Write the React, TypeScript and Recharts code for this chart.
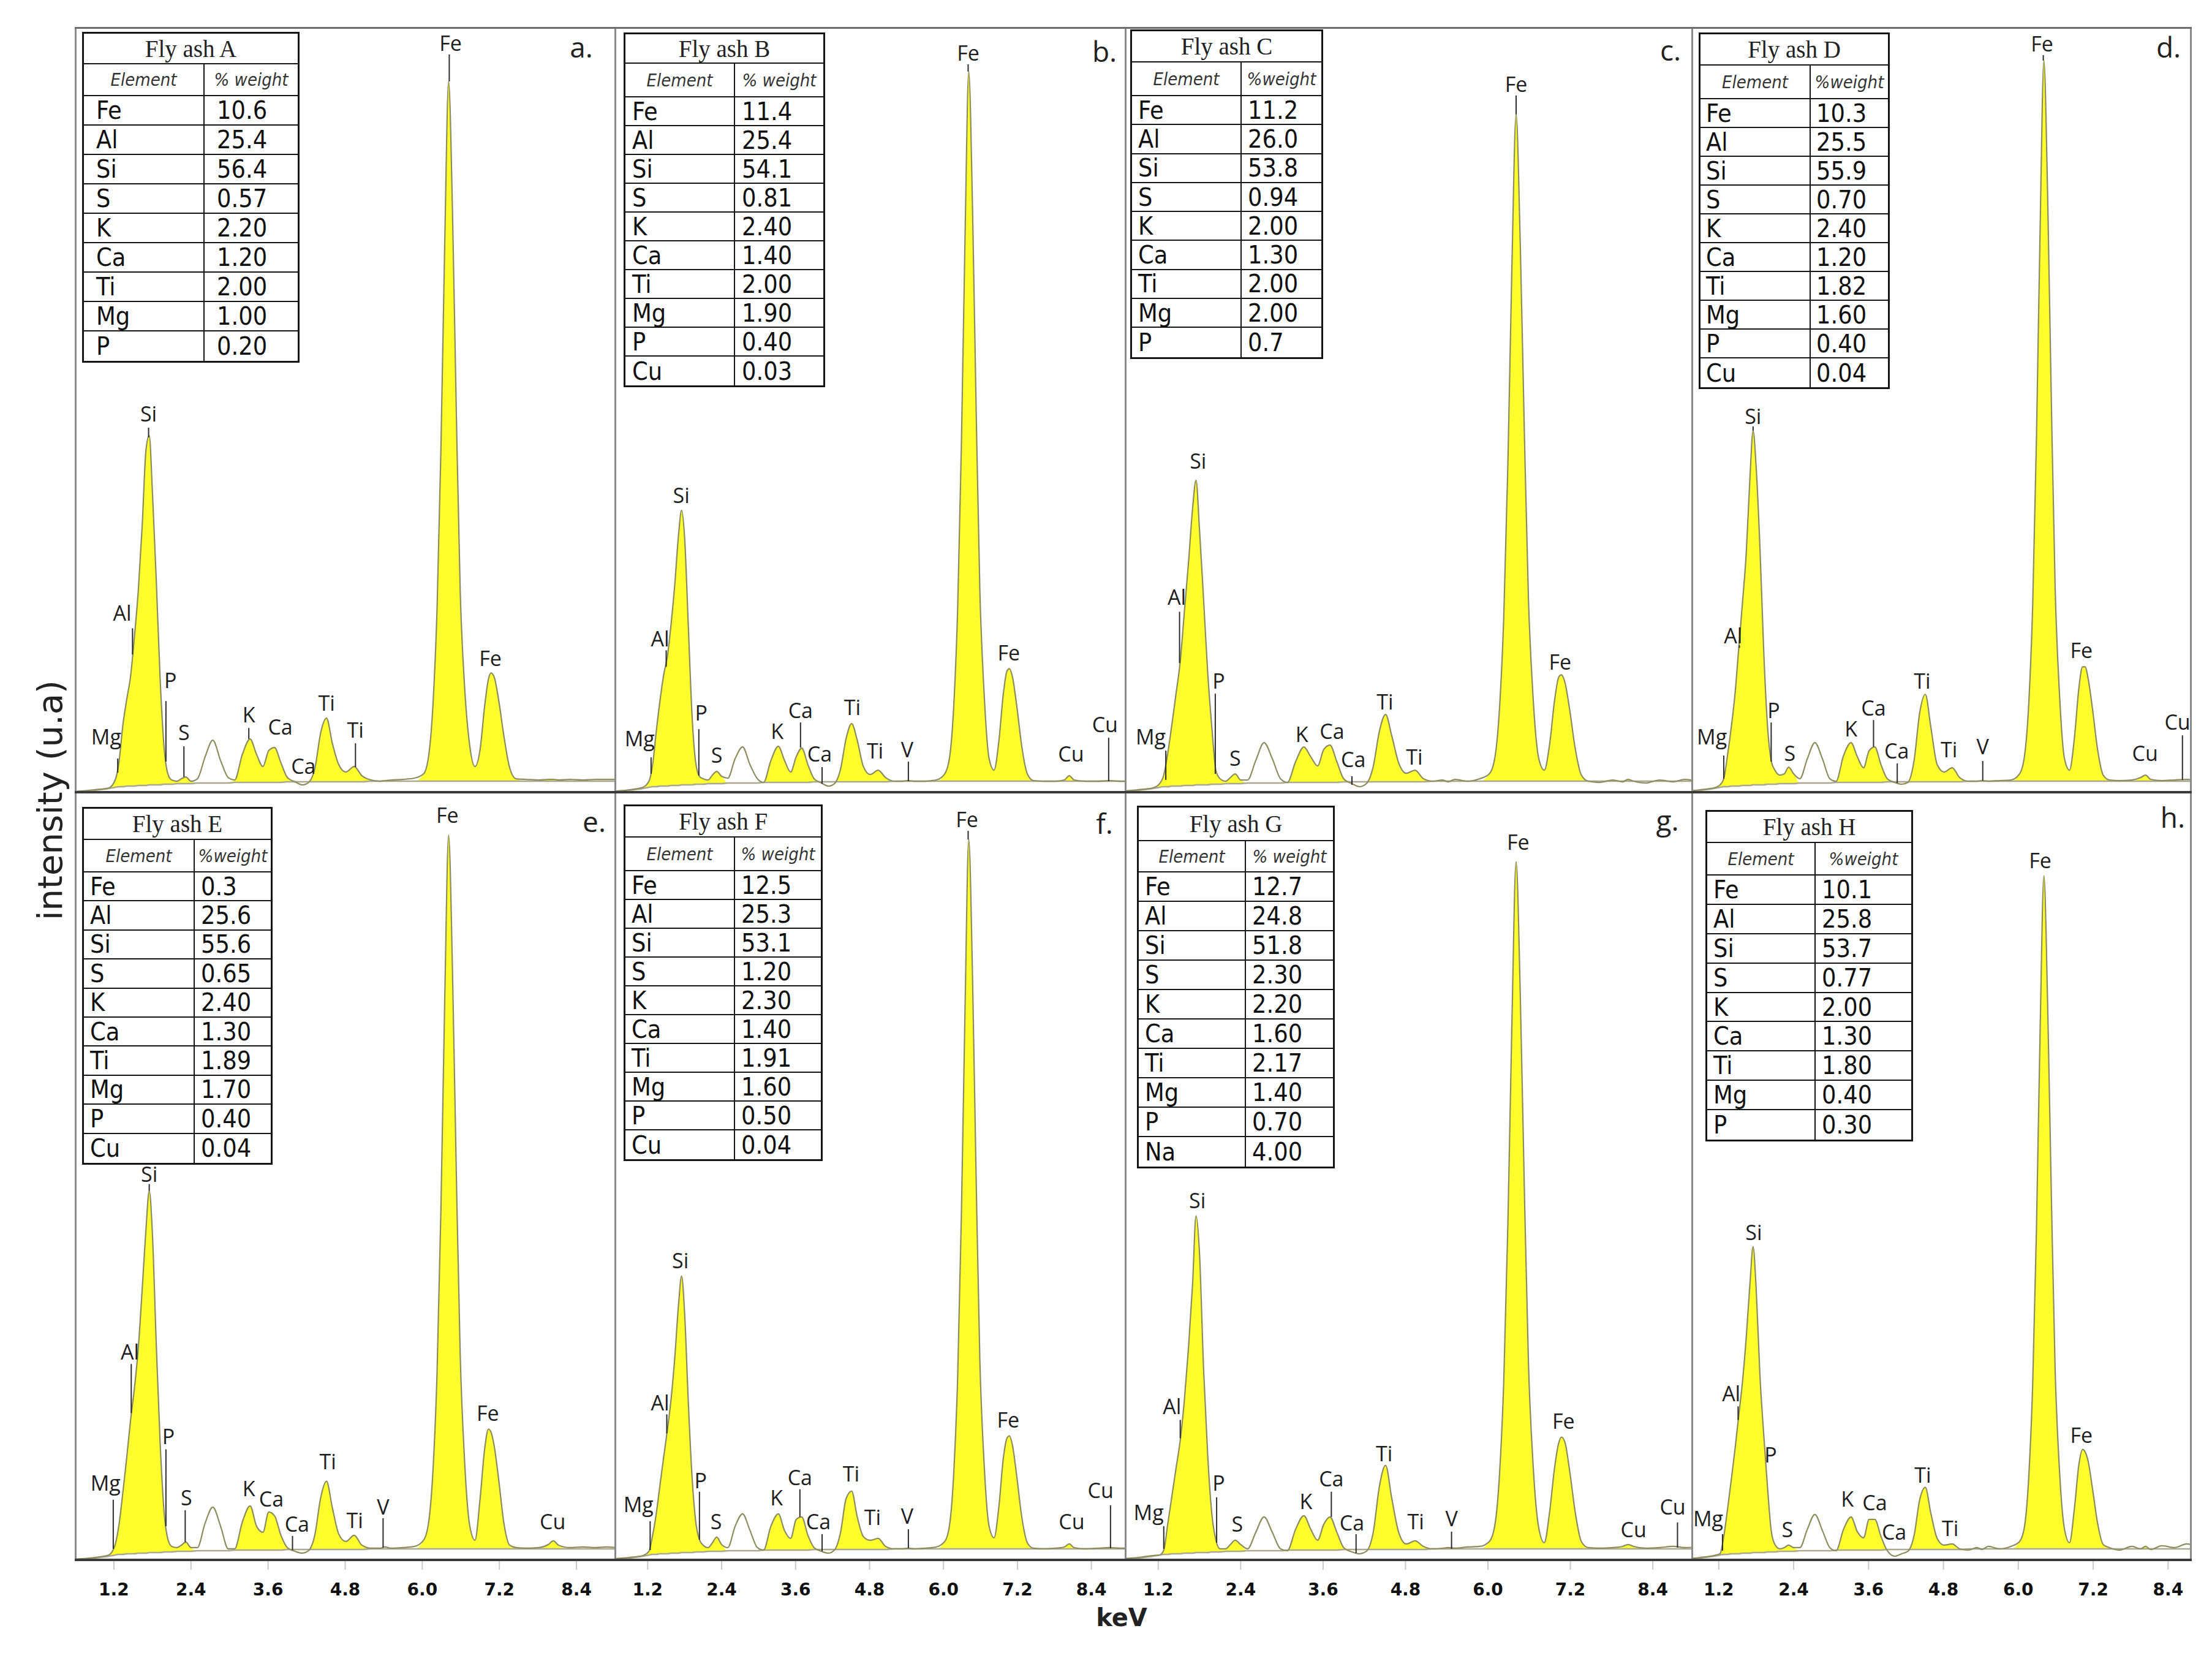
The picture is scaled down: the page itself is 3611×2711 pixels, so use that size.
import React from 'react';
import { ComposedChart, Area, Line, XAxis, YAxis, ReferenceLine, ReferenceDot } from 'recharts';

// ---------- data ----------
const KEV = [
  0.55, 0.90, 1.12,
  1.22, 1.28, 1.34, 1.40, 1.46, 1.52, 1.58, 1.64, 1.70, 1.75, 1.80, 1.86, 1.92, 1.98, 2.04, 2.10,
  2.18, 2.25, 2.32, 2.40,
  2.50, 2.62, 2.74, 2.86, 2.98,
  3.08, 3.20, 3.32, 3.42, 3.52, 3.61, 3.70, 3.80, 3.90, 4.02, 4.13,
  4.23, 4.33, 4.42, 4.51, 4.60, 4.70, 4.81, 4.94, 5.06, 5.20,
  5.34, 5.42, 5.52, 5.70, 5.88,
  6.02, 6.10, 6.17, 6.23, 6.29, 6.35, 6.41, 6.47, 6.53, 6.59, 6.66, 6.74, 6.82,
  6.90, 6.97, 7.03, 7.07, 7.12, 7.19, 7.27, 7.36,
  7.46, 7.62, 7.82, 7.96, 8.04, 8.12, 8.30, 8.50, 8.70, 8.86, 9.05,
];

const BASELINE = [
  0, 3, 6,
  8, 9, 9, 10, 10, 10, 11, 11, 11, 12, 12, 12, 12, 13, 13, 13,
  14, 14, 14, 14,
  15, 15, 15, 15, 15,
  16, 16, 16, 16, 16, 16, 16, 16, 17, 17, 17,
  17, 17, 17, 17, 17, 17, 17, 17, 17, 18,
  18, 18, 18, 18, 18,
  18, 18, 18, 18, 18, 18, 18, 18, 18, 18, 18, 18, 18,
  18, 18, 18, 18, 18, 18, 18, 18,
  18, 18, 18, 18, 18, 18, 18, 18, 18, 18, 18,
];

const SPEC_A = [
  1, 4, 7,
  20, 50, 110, 152, 190, 255, 330, 435, 560, 583, 490, 345, 185, 75, 30, 20,
  18, 22, 25, 18,
  22, 58, 85, 52, 24,
  20, 62, 87, 62, 42, 68, 73, 48, 24, 17, 12,
  16, 40, 98, 121, 80, 45, 33, 42, 27, 20,
  18, 19, 20, 21, 23,
  30, 60, 150, 300, 560, 900, 1162, 950, 620, 330, 170, 75, 42,
  70, 140, 185, 195, 188, 150, 92, 40,
  22, 21, 20, 21, 21, 20, 21, 20, 21, 21, 21,
];

const SPEC_B = [
  1, 4, 8,
  18, 45, 100, 150, 192, 222, 275, 340, 420, 461, 415, 270, 125, 48, 26, 22,
  20, 28, 34, 26,
  23, 55, 74, 45, 22,
  16, 52, 75, 52, 33, 58, 72, 45, 22, 15, 10,
  14, 38, 88, 112, 85, 42, 29, 36, 24, 18,
  18, 19, 18, 18, 20,
  30, 58, 148, 300, 565, 910, 1178, 960, 625, 330, 160, 55, 36,
  85, 160, 198, 202, 188, 140, 75, 30,
  19, 18, 18, 20, 27, 20, 18, 18, 19, 18, 18,
];

const SPEC_C = [
  1, 4, 7,
  14, 28, 65, 112, 162, 214, 295, 375, 464, 510, 430, 315, 195, 106, 35, 22,
  18, 24, 30, 20,
  20, 52, 81, 55, 22,
  16, 50, 74, 58, 43, 70, 77, 50, 22, 14, 9,
  14, 42, 100, 127, 92, 48, 31, 36, 22, 18,
  20, 17, 21, 18, 22,
  30, 56, 140, 285, 535, 865, 1108, 900, 590, 315, 150, 55, 36,
  80, 150, 188, 192, 180, 135, 72, 28,
  18, 16, 20, 17, 21, 18, 15, 20, 17, 21, 18,
];

const SPEC_D = [
  1, 4, 7,
  12, 22, 60, 106, 160, 235, 310, 390, 515, 591, 530, 400, 232, 110, 52, 36,
  28, 30, 41, 30,
  22, 55, 81, 55, 22,
  18, 60, 81, 58, 40, 68, 74, 45, 22, 16, 13,
  16, 52, 130, 160, 105, 45, 33, 40, 24, 18,
  18, 19, 18, 19, 20,
  30, 60, 150, 305, 575, 925, 1196, 975, 635, 335, 160, 55, 36,
  90, 170, 205, 205, 185, 135, 70, 28,
  20, 19, 20, 24, 28, 21, 19, 20, 21, 20, 20,
];

const SPEC_E = [
  1, 4, 8,
  25, 58, 110, 167, 228, 280, 345, 440, 540, 601, 530, 350, 190, 80, 34, 22,
  20, 24, 29, 20,
  20, 60, 86, 55, 18,
  18, 62, 88, 55, 45, 78, 72, 40, 20, 14, 11,
  15, 42, 102, 128, 85, 42, 30, 40, 24, 19,
  19, 21, 19, 20, 22,
  32, 62, 152, 305, 570, 915, 1180, 960, 628, 335, 158, 55, 32,
  100, 180, 213, 208, 185, 130, 60, 24,
  20, 19, 20, 25, 31, 24, 20, 21, 20, 21, 20,
];

const SPEC_F = [
  1, 4, 7,
  14, 40, 76, 122, 168, 212, 262, 330, 415, 462, 400, 255, 135, 62, 33, 24,
  20, 28, 37, 25,
  20, 55, 75, 48, 20,
  16, 55, 75, 48, 35, 66, 70, 40, 20, 14, 11,
  16, 45, 100, 112, 70, 38, 32, 35, 22, 18,
  18, 19, 18, 19, 21,
  30, 58, 148, 298, 560, 900, 1173, 955, 620, 325, 155, 55, 36,
  88, 165, 198, 202, 186, 135, 70, 28,
  19, 18, 19, 21, 26, 20, 18, 19, 20, 19, 19,
];

const SPEC_G = [
  1, 4, 7,
  8, 16, 60, 105, 150, 195, 260, 345, 450, 560, 500, 310, 170, 75, 32, 18,
  18, 25, 32, 25,
  18, 45, 70, 45, 18,
  15, 50, 72, 50, 32, 58, 70, 45, 20, 13, 10,
  14, 45, 120, 154, 100, 45, 26, 31, 22, 18,
  19, 20, 19, 21, 22,
  30, 56, 142, 290, 545, 880, 1137, 925, 605, 320, 150, 52, 28,
  80, 150, 190, 200, 192, 145, 78, 30,
  20, 19, 20, 22, 25, 22, 19, 20, 22, 20, 21,
];

const SPEC_H = [
  1, 4, 7,
  10, 38, 82, 130, 180, 235, 290, 362, 450, 510, 440, 300, 205, 120, 48, 25,
  18, 20, 24, 20,
  20, 50, 74, 48, 20,
  15, 50, 70, 46, 36, 66, 66, 38, 15, 6, 10,
  14, 40, 98, 118, 75, 35, 24, 26, 18, 16,
  20, 17, 22, 18, 22,
  30, 55, 140, 285, 535, 865, 1114, 905, 590, 310, 145, 50, 28,
  85, 155, 180, 176, 160, 115, 60, 25,
  20, 16, 22, 18, 22, 17, 23, 20, 26, 24, 30,
];

// energy bands where the area under a peak is shaded yellow
const FILL_BANDS = [[0.5, 2.45], [3.03, 5.25], [5.96, 7.5], [7.9, 8.2]];

const TICKS = [1.2, 2.4, 3.6, 4.8, 6.0, 7.2, 8.4];

const TABLE_A = [['Fe', '10.6'], ['Al', '25.4'], ['Si', '56.4'], ['S', '0.57'], ['K', '2.20'], ['Ca', '1.20'], ['Ti', '2.00'], ['Mg', '1.00'], ['P', '0.20']];
const TABLE_B = [['Fe', '11.4'], ['Al', '25.4'], ['Si', '54.1'], ['S', '0.81'], ['K', '2.40'], ['Ca', '1.40'], ['Ti', '2.00'], ['Mg', '1.90'], ['P', '0.40'], ['Cu', '0.03']];
const TABLE_C = [['Fe', '11.2'], ['Al', '26.0'], ['Si', '53.8'], ['S', '0.94'], ['K', '2.00'], ['Ca', '1.30'], ['Ti', '2.00'], ['Mg', '2.00'], ['P', '0.7']];
const TABLE_D = [['Fe', '10.3'], ['Al', '25.5'], ['Si', '55.9'], ['S', '0.70'], ['K', '2.40'], ['Ca', '1.20'], ['Ti', '1.82'], ['Mg', '1.60'], ['P', '0.40'], ['Cu', '0.04']];
const TABLE_E = [['Fe', '0.3'], ['Al', '25.6'], ['Si', '55.6'], ['S', '0.65'], ['K', '2.40'], ['Ca', '1.30'], ['Ti', '1.89'], ['Mg', '1.70'], ['P', '0.40'], ['Cu', '0.04']];
const TABLE_F = [['Fe', '12.5'], ['Al', '25.3'], ['Si', '53.1'], ['S', '1.20'], ['K', '2.30'], ['Ca', '1.40'], ['Ti', '1.91'], ['Mg', '1.60'], ['P', '0.50'], ['Cu', '0.04']];
const TABLE_G = [['Fe', '12.7'], ['Al', '24.8'], ['Si', '51.8'], ['S', '2.30'], ['K', '2.20'], ['Ca', '1.60'], ['Ti', '2.17'], ['Mg', '1.40'], ['P', '0.70'], ['Na', '4.00']];
const TABLE_H = [['Fe', '10.1'], ['Al', '25.8'], ['Si', '53.7'], ['S', '0.77'], ['K', '2.00'], ['Ca', '1.30'], ['Ti', '1.80'], ['Mg', '0.40'], ['P', '0.30']];

// peak labels: [text, keV, intensity of text baseline, marker keV, marker top, marker bottom]
const LABELS_A = [
  ['Mg', 1.08, 78, 1.26, 55, 32], ['Al', 1.33, 280, 1.49, 268, 225], ['Si', 1.74, 606, 1.74, 596, 580],
  ['P', 2.08, 170, 2.01, 149, 50], ['S', 2.29, 85, 2.29, 75, 25], ['K', 3.30, 114, 3.30, 105, 87],
  ['Ca', 3.79, 94], ['Ca', 4.15, 30], ['Ti', 4.51, 133], ['Ti', 4.96, 89, 4.96, 80, 41],
  ['Fe', 7.06, 206], ['Fe', 6.44, 1212, 6.42, 1206, 1162],
];
const LABELS_B = [
  ['Mg', 1.07, 75, 1.255, 57, 30], ['Al', 1.40, 238, 1.50, 232, 205], ['Si', 1.745, 473],
  ['P', 2.07, 117, 2.03, 103, 27], ['S', 2.32, 48], ['K', 3.30, 87], ['Ca', 3.68, 121, 3.68, 114, 73],
  ['Ca', 3.99, 50, 4.03, 41, 14], ['Ti', 4.52, 126], ['Ti', 4.89, 55], ['V', 5.41, 57, 5.43, 50, 18],
  ['Fe', 7.06, 215], ['Fe', 6.40, 1196, 6.40, 1190, 1178], ['Cu', 8.07, 50], ['Cu', 8.62, 98, 8.68, 89, 18],
];
const LABELS_C = [
  ['Mg', 1.09, 78, 1.31, 68, 20], ['Al', 1.47, 306, 1.51, 295, 211], ['Si', 1.78, 529],
  ['P', 2.08, 169, 2.03, 161, 30], ['S', 2.32, 43], ['K', 3.29, 82], ['Ca', 3.73, 87],
  ['Ca', 4.04, 41, 4.02, 26, 12], ['Ti', 4.50, 135], ['Ti', 4.93, 45], ['Fe', 7.05, 200],
  ['Fe', 6.41, 1145, 6.41, 1139, 1108],
];
const LABELS_D = [
  ['Mg', 1.09, 78, 1.28, 60, 22], ['Al', 1.43, 243, 1.53, 236, 240], ['Si', 1.75, 602, 1.75, 598, 591],
  ['P', 2.08, 121, 2.04, 114, 50], ['S', 2.34, 51], ['K', 3.32, 91], ['Ca', 3.68, 125, 3.68, 118, 74],
  ['Ca', 4.05, 55, 4.06, 47, 15], ['Ti', 4.46, 169], ['Ti', 4.89, 57], ['V', 5.43, 62, 5.43, 51, 19],
  ['Fe', 7.01, 219], ['Fe', 6.38, 1211, 6.40, 1205, 1196], ['Cu', 8.03, 51], ['Cu', 8.55, 102, 8.63, 93, 20],
];
const LABELS_E = [
  ['Mg', 1.07, 113, 1.19, 98, 18], ['Al', 1.45, 326, 1.47, 319, 239], ['Si', 1.75, 616, 1.75, 612, 601],
  ['P', 2.05, 189, 2.01, 180, 55], ['S', 2.33, 89, 2.31, 81, 29], ['K', 3.30, 104], ['Ca', 3.65, 87],
  ['Ca', 4.05, 46, 3.98, 39, 16], ['Ti', 4.53, 148], ['Ti', 4.95, 52], ['V', 5.39, 74, 5.39, 68, 20],
  ['Fe', 7.02, 226], ['Fe', 6.39, 1200], ['Cu', 8.03, 50],
];
const LABELS_F = [
  ['Mg', 1.05, 78, 1.24, 63, 16], ['Al', 1.40, 243, 1.51, 237, 206], ['Si', 1.73, 475],
  ['P', 2.06, 117, 2.04, 111, 33], ['S', 2.31, 50], ['K', 3.29, 89], ['Ca', 3.67, 122, 3.67, 115, 70],
  ['Ca', 3.97, 50, 4.03, 42, 14], ['Ti', 4.50, 128], ['Ti', 4.85, 57], ['V', 5.41, 59, 5.43, 50, 19],
  ['Fe', 7.05, 215], ['Fe', 6.38, 1193, 6.40, 1187, 1173], ['Cu', 8.08, 50], ['Cu', 8.55, 101, 8.71, 89, 19],
];
const LABELS_G = [
  ['Mg', 1.06, 65, 1.28, 55, 18], ['Al', 1.40, 237, 1.52, 228, 198], ['Si', 1.77, 573],
  ['P', 2.08, 113, 2.05, 102, 28], ['S', 2.35, 46], ['K', 3.35, 83], ['Ca', 3.72, 120, 3.72, 111, 70],
  ['Ca', 4.02, 48, 4.08, 42, 11], ['Ti', 4.49, 161], ['Ti', 4.95, 50], ['V', 5.47, 55, 5.47, 46, 18],
  ['Fe', 7.10, 213], ['Fe', 6.44, 1156], ['Cu', 8.12, 37], ['Cu', 8.69, 74, 8.76, 61, 20],
];
const LABELS_H = [
  ['Mg', 1.03, 55, 1.26, 42, 15], ['Al', 1.40, 258, 1.51, 250, 228], ['Si', 1.76, 521],
  ['P', 2.03, 159], ['S', 2.30, 37], ['K', 3.26, 87], ['Ca', 3.70, 81], ['Ca', 4.01, 33],
  ['Ti', 4.47, 126], ['Ti', 4.91, 39], ['Fe', 7.01, 191], ['Fe', 6.35, 1126],
];

// ---------- layout ----------
const COLS = [
  { left: 123, width: 881, domain: [0.6, 9.0] },
  { left: 1004, width: 833, domain: [0.67, 8.95] },
  { left: 1837, width: 925, domain: [0.72, 8.97] },
  { left: 2762, width: 814, domain: [0.77, 8.76] },
];
const ROWS = [{ top: 45, height: 1248 }, { top: 1293, height: 1253 }];
const Y_DOMAIN = [0, 1250];

const PANELS = [
  { id: 'a', title: 'Fly ash A', spec: SPEC_A, table: TABLE_A, labels: LABELS_A, col: 0, row: 0, head: '% weight',
    box: { left: 134, top: 52, width: 355, c1: 200, th: 50, hh: 52, rh: 48, pad: 20 }, letter: [949, 76] },
  { id: 'b', title: 'Fly ash B', spec: SPEC_B, table: TABLE_B, labels: LABELS_B, col: 1, row: 0, head: '% weight',
    box: { left: 1018, top: 53, width: 329, c1: 182, th: 48, hh: 55, rh: 47, pad: 11 }, letter: [1803, 83] },
  { id: 'c', title: 'Fly ash C', spec: SPEC_C, table: TABLE_C, labels: LABELS_C, col: 2, row: 0, head: '%weight',
    box: { left: 1845, top: 48, width: 315, c1: 182, th: 51, hh: 55, rh: 47.3, pad: 10 }, letter: [2727, 81] },
  { id: 'd', title: 'Fly ash D', spec: SPEC_D, table: TABLE_D, labels: LABELS_D, col: 3, row: 0, head: '%weight',
    box: { left: 2773, top: 53, width: 312, c1: 183, th: 51, hh: 55, rh: 47, pad: 9 }, letter: [3540, 76] },
  { id: 'e', title: 'Fly ash E', spec: SPEC_E, table: TABLE_E, labels: LABELS_E, col: 0, row: 1, head: '%weight',
    box: { left: 134, top: 1317, width: 311, c1: 184, th: 51, hh: 53, rh: 47.4, pad: 10 }, letter: [970, 1340] },
  { id: 'f', title: 'Fly ash F', spec: SPEC_F, table: TABLE_F, labels: LABELS_F, col: 1, row: 1, head: '% weight',
    box: { left: 1018, top: 1313, width: 325, c1: 182, th: 51, hh: 55, rh: 47, pad: 10 }, letter: [1803, 1343] },
  { id: 'g', title: 'Fly ash G', spec: SPEC_G, table: TABLE_G, labels: LABELS_G, col: 2, row: 1, head: '% weight',
    box: { left: 1856, top: 1315, width: 323, c1: 178, th: 55, hh: 51, rh: 48, pad: 10 }, letter: [2722, 1338] },
  { id: 'h', title: 'Fly ash H', spec: SPEC_H, table: TABLE_H, labels: LABELS_H, col: 3, row: 1, head: '%weight',
    box: { left: 2784, top: 1322, width: 339, c1: 180, th: 51, hh: 53, rh: 47.9, pad: 10 }, letter: [3547, 1333] },
];

const YELLOW = '#FFFF2E';
const CURVE = '#8c8c5e';
const LABEL_FONT = 'Open Sans, DejaVu Sans, sans-serif';
const TABLE_FONT = 'DejaVu Sans Condensed, DejaVu Sans, sans-serif';

function Spectrum({ p }: { p: any }) {
  const col = COLS[p.col];
  const row = ROWS[p.row];
  const bottom = p.row === 1;
  const axisH = bottom ? 90 : 0;
  const data = KEV.map((x, i) => {
    const y = p.spec[i];
    const b = BASELINE[i];
    const filled = FILL_BANDS.some(([lo, hi]) => x >= lo && x <= hi);
    return { x, y, base: b, band: [b, filled ? Math.max(y, b) : b] };
  });
  return (
    <div style={{ position: 'absolute', left: col.left, top: row.top, width: col.width, height: row.height + axisH }}>
      <ComposedChart width={col.width} height={row.height + axisH} data={data} margin={{ top: 0, right: 0, bottom: 0, left: 0 }}>
        <XAxis
          type="number"
          dataKey="x"
          domain={col.domain}
          allowDataOverflow
          ticks={TICKS}
          interval={0}
          hide={!bottom}
          height={axisH}
          axisLine={false}
          tickLine={{ stroke: '#c9c9c9', strokeWidth: 2 }}
          tickSize={16}
          tickMargin={22}
          tick={{ fontFamily: 'DejaVu Sans, sans-serif', fontWeight: 'bold', fontSize: 28, fill: '#111' }}
          tickFormatter={(v: number) => v.toFixed(1)}
        />
        <YAxis type="number" domain={Y_DOMAIN} allowDataOverflow hide />
        <Area type="monotone" dataKey="band" stroke="none" fill={YELLOW} fillOpacity={1} isAnimationActive={false} />
        <Line type="monotone" dataKey="base" stroke="#aaa98f" strokeWidth={2.5} dot={false} isAnimationActive={false} />
        <Line type="monotone" dataKey="y" stroke={CURVE} strokeWidth={2.2} dot={false} isAnimationActive={false} />
        {p.labels.filter((l: any[]) => l.length > 3).map((l: any[], k: number) => (
          <ReferenceLine
            key={'m' + k}
            segment={[{ x: l[3], y: l[4] }, { x: l[3], y: l[5] }]}
            stroke="#2a2a2a"
            strokeWidth={2}
            ifOverflow="visible"
          />
        ))}
        {p.labels.map((l: any[], k: number) => (
          <ReferenceDot
            key={'t' + k}
            x={l[1]}
            y={l[2]}
            r={1}
            ifOverflow="visible"
            shape={(sp: any) => (
              <text x={sp.cx} y={sp.cy} textAnchor="middle" fontFamily={LABEL_FONT} fontSize={34} fill="#1e1e1e">
                {l[0]}
              </text>
            )}
          />
        ))}
      </ComposedChart>
    </div>
  );
}

function DataTable({ p }: { p: any }) {
  const b = p.box;
  const line = '#151515';
  const cellFont = { fontFamily: TABLE_FONT, fontSize: 41, color: '#111' };
  const headFont = { fontFamily: TABLE_FONT, fontStyle: 'italic', fontSize: 29, color: '#333', whiteSpace: 'nowrap' as const };
  return (
    <div style={{ position: 'absolute', left: b.left, top: b.top, width: b.width, zIndex: 3, background: '#fff',
      border: `3px solid ${line}`, boxSizing: 'border-box' }}>
      <div style={{ height: b.th, boxSizing: 'border-box', borderBottom: `2px solid ${line}`, display: 'flex',
        alignItems: 'center', justifyContent: 'center', fontFamily: 'Liberation Serif, serif', fontSize: 39, color: '#222' }}>
        {p.title}
      </div>
      <div style={{ height: b.hh, boxSizing: 'border-box', borderBottom: `2px solid ${line}`, display: 'flex' }}>
        <div style={{ width: b.c1 - 3, boxSizing: 'border-box', borderRight: `2px solid ${line}`, display: 'flex',
          alignItems: 'center', justifyContent: 'center', ...headFont }}>Element</div>
        <div style={{ flex: 1, display: 'flex', alignItems: 'center', justifyContent: 'center', ...headFont }}>{p.head}</div>
      </div>
      {p.table.map((r: string[], i: number) => (
        <div key={i} style={{ height: b.rh, boxSizing: 'border-box',
          borderBottom: i < p.table.length - 1 ? `2px solid ${line}` : 'none', display: 'flex' }}>
          <div style={{ width: b.c1 - 3, boxSizing: 'border-box', borderRight: `2px solid ${line}`, display: 'flex',
            alignItems: 'center', paddingLeft: b.pad, ...cellFont }}>{r[0]}</div>
          <div style={{ flex: 1, display: 'flex', alignItems: 'center', paddingLeft: b.pad, ...cellFont }}>{r[1]}</div>
        </div>
      ))}
    </div>
  );
}

function Frames() {
  const xs = [123, 1004, 1837, 2762, 3576];
  const lines: any[] = [];
  xs.forEach((x, i) => lines.push(
    <div key={'v' + i} style={{ position: 'absolute', left: x - 1.5, top: 45, width: 3, height: 2503, background: '#8a8a8a', zIndex: 2 }} />
  ));
  lines.push(<div key="h0" style={{ position: 'absolute', left: 122, top: 44, width: 3456, height: 3, background: '#6c6c6c', zIndex: 2 }} />);
  lines.push(<div key="h1" style={{ position: 'absolute', left: 122, top: 1291, width: 3456, height: 4, background: '#3a3a3a', zIndex: 2 }} />);
  lines.push(<div key="h2" style={{ position: 'absolute', left: 122, top: 2544, width: 3456, height: 4, background: '#3a3a3a', zIndex: 2 }} />);
  return <>{lines}</>;
}

export default function App() {
  return (
    <div style={{ position: 'absolute', left: 0, top: 0, width: 3611, height: 2711, background: '#fff', overflow: 'hidden' }}>
      {PANELS.map((p) => <Spectrum key={'s' + p.id} p={p} />)}
      <Frames />
      {PANELS.map((p) => <DataTable key={'t' + p.id} p={p} />)}
      {PANELS.map((p) => (
        <div key={'l' + p.id} style={{ position: 'absolute', left: p.letter[0], top: p.letter[1], transform: 'translate(-50%, -50%)',
          fontFamily: LABEL_FONT, fontSize: 46, color: '#222', zIndex: 4, lineHeight: 1 }}>{p.id}.</div>
      ))}
      <svg style={{ position: 'absolute', left: 0, top: 1000, zIndex: 4 }} width={140} height={620}>
        <text x={81} y={306} transform="rotate(-90 81 306)" textAnchor="middle" dominantBaseline="central"
          fontFamily="DejaVu Sans, sans-serif" fontSize={56} fill="#222">intensity (u.a)</text>
      </svg>
      <div style={{ position: 'absolute', left: 1831, top: 2640, transform: 'translate(-50%, -50%)', fontFamily: 'DejaVu Sans, sans-serif',
        fontWeight: 'bold', fontSize: 40, color: '#222', lineHeight: 1, zIndex: 4 }}>keV</div>
    </div>
  );
}
